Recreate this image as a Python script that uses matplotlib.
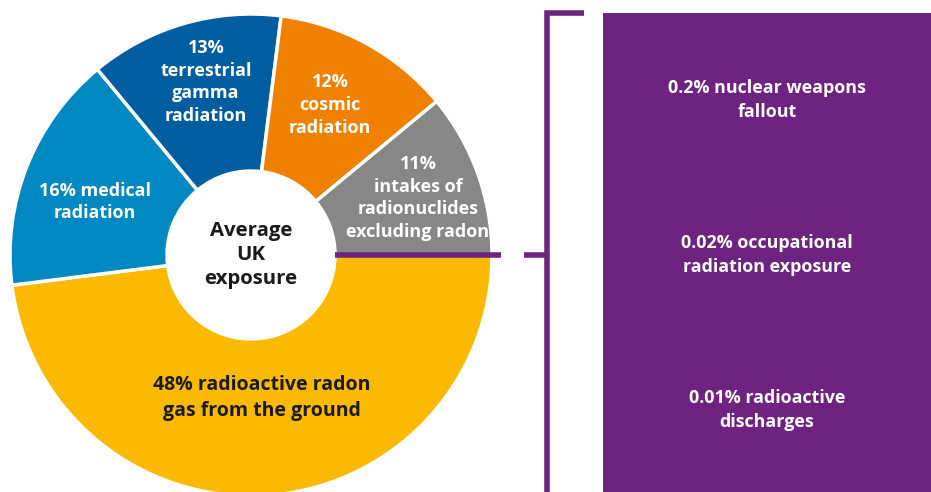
import matplotlib.pyplot as plt
from matplotlib.patches import Rectangle

# share of average UK radiation exposure (%)
sources = ["radioactive radon gas", "medical", "terrestrial gamma", "cosmic", "intakes"]
shares = [48, 16, 13, 12, 11]
colors = ["#FBB900", "#0088C2", "#005EA0", "#F08000", "#878787"]
labels = [
    "48% radioactive radon\ngas from the ground",
    "16% medical\nradiation",
    "13%\nterrestrial\ngamma\nradiation",
    "12%\ncosmic\nradiation",
    "11%\nintakes of\nradionuclides\nexcluding radon",
]
label_colors = ["#1a1a1a", "white", "white", "white", "white"]
label_sizes = [14, 13, 13, 13, 13]
# label anchor in pixel coords (x, y from top)
label_pos = [(262, 398), (95, 202), (206, 82), (330, 105), (418, 198)]

small_labels = [
    "0.2% nuclear weapons\nfallout",
    "0.02% occupational\nradiation exposure",
    "0.01% radioactive\ndischarges",
]
small_y = [100, 255, 410]

purple = "#6F2381"
W, H = 931, 492
cx, cy, r, r_in = 251, 255, 241, 84

plt.rcParams['font.family'] = ['Open Sans', 'DejaVu Sans']

fig = plt.figure(figsize=(W / 100, H / 100), dpi=100)

# pie is drawn in a y-up frame, so flip the centre
ax2 = fig.add_axes([0, 0, 1, 1])
ax2.pie(shares, colors=colors, startangle=0, counterclock=False,
        center=(cx, H - cy), radius=r,
        wedgeprops=dict(width=r - r_in, edgecolor='white', linewidth=2.5))
ax2.set_xlim(0, W)
ax2.set_ylim(0, H)
ax2.set_aspect('equal')
ax2.axis('off')

ax3 = fig.add_axes([0, 0, 1, 1])
ax3.set_xlim(0, W)
ax3.set_ylim(H, 0)
ax3.axis('off')

for lab, col, fs, (x, y) in zip(labels, label_colors, label_sizes, label_pos):
    ax3.text(x, y, lab, color=col, ha='center', va='center', fontsize=fs,
             fontweight='bold', linespacing=1.35)

ax3.text(cx, cy, "Average\nUK\nexposure", color='#1a1a1a', ha='center', va='center',
         fontsize=14.7, fontweight='bold', linespacing=1.25)

# line for the tiny remaining sources, plus bracket
ax3.plot([r_in + cx, 501], [cy, cy], color=purple, lw=4, solid_capstyle='butt')
ax3.plot([524, 547], [cy, cy], color=purple, lw=4, solid_capstyle='butt')
ax3.plot([584, 546.5, 546.5], [12.5, 12.5, H + 5], color=purple, lw=4,
         solid_capstyle='butt', solid_joinstyle='miter')

ax3.add_patch(Rectangle((603, 13), W - 603, H - 13, color=purple, lw=0))
for lab, y in zip(small_labels, small_y):
    ax3.text(767, y, lab, color='white', ha='center', va='center', fontsize=12.9,
             fontweight='bold', linespacing=1.45)

fig.savefig("out.png", dpi=100)
